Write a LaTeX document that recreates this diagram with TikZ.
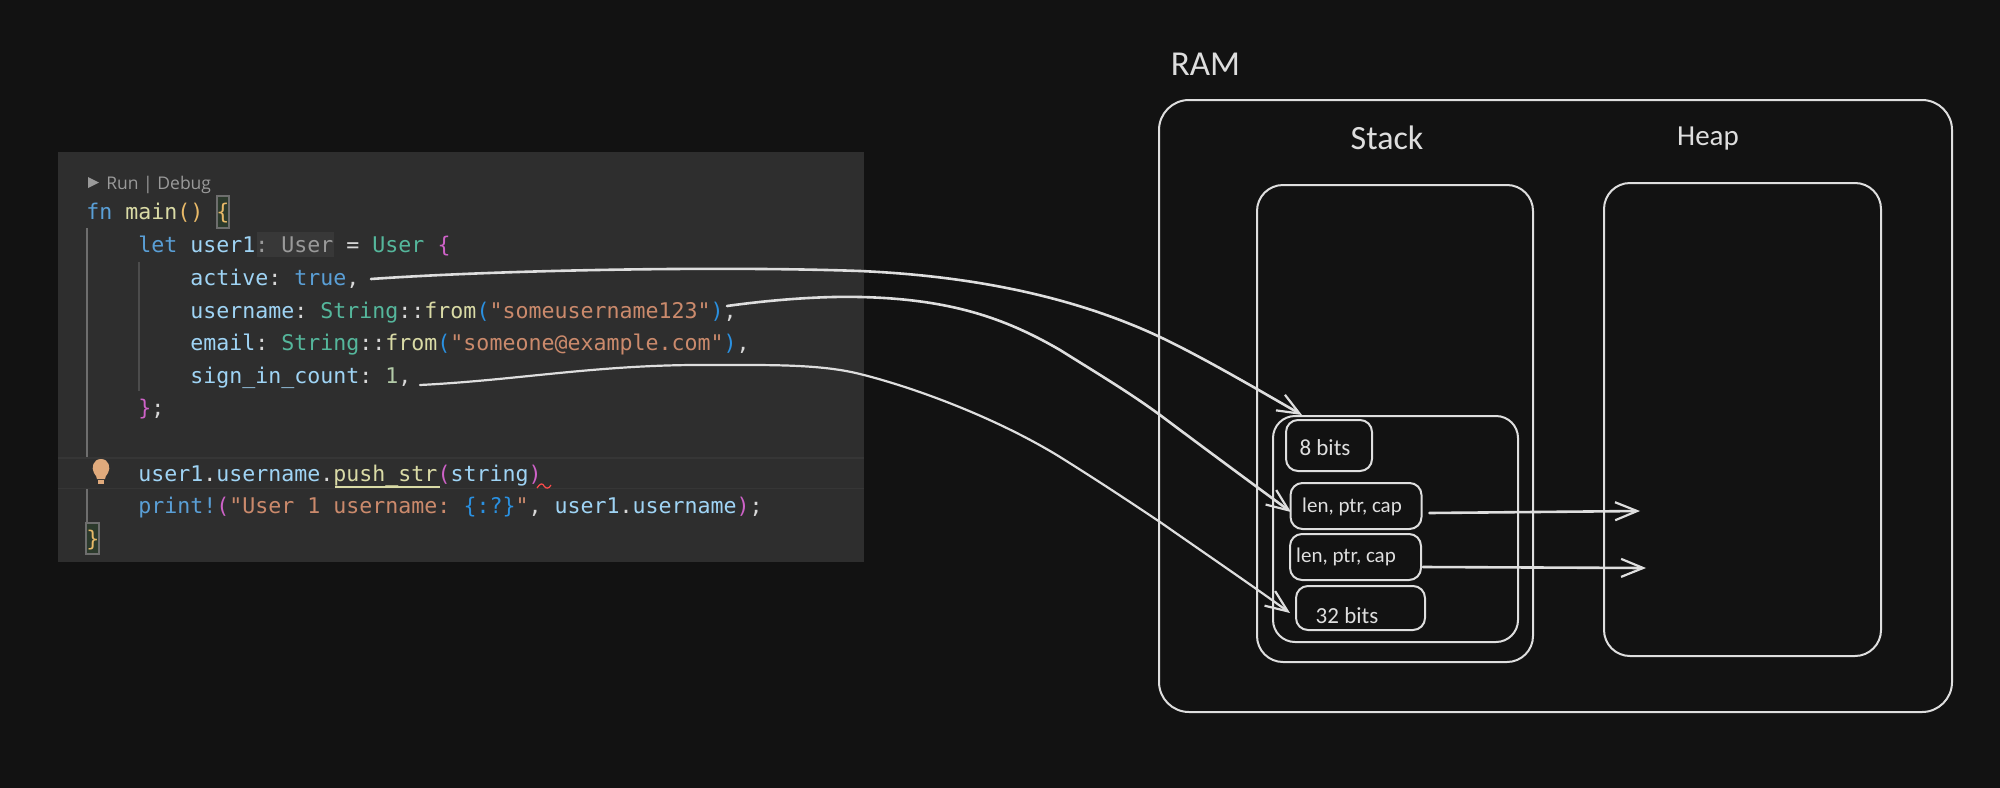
\documentclass[tikz,border=0pt]{standalone}
\usepackage{fontspec}
\usetikzlibrary{arrows.meta,shapes.misc,calc}
\setmainfont{Carlito}
\newfontfamily\codefont{DejaVu Sans Mono}
\newfontfamily\uifont{Open Sans}
\frenchspacing
\definecolor{bgc}{HTML}{121212}
\definecolor{panelc}{HTML}{2E2E2E}
\definecolor{inkc}{HTML}{DEDEDE}
\definecolor{kwc}{HTML}{5A9FD6}
\definecolor{varc}{HTML}{9FD4F5}
\definecolor{typc}{HTML}{55B79C}
\definecolor{fnc}{HTML}{DADBA6}
\definecolor{strc}{HTML}{CB8A6C}
\definecolor{numc}{HTML}{B3CBA8}
\definecolor{goldc}{HTML}{E8B968}
\definecolor{pinkc}{HTML}{CE62C8}
\definecolor{bluec}{HTML}{2A90E0}
\definecolor{txtc}{HTML}{D8D8D8}
\definecolor{uic}{HTML}{9A9A9A}
\definecolor{guideA}{HTML}{6E6E6E}
\definecolor{guideB}{HTML}{4C4C4C}
\definecolor{matchc}{HTML}{2C3A2C}
\definecolor{bulbc}{HTML}{E0AA7C}
\newcommand{\kw}[1]{\textcolor{kwc}{#1}}
\newcommand{\vr}[1]{\textcolor{varc}{#1}}
\newcommand{\ty}[1]{\textcolor{typc}{#1}}
\newcommand{\fnn}[1]{\textcolor{fnc}{#1}}
\newcommand{\st}[1]{\textcolor{strc}{#1}}
\newcommand{\nm}[1]{\textcolor{numc}{#1}}
\newcommand{\gd}[1]{\textcolor{goldc}{#1}}
\newcommand{\pk}[1]{\textcolor{pinkc}{#1}}
\newcommand{\bl}[1]{\textcolor{bluec}{#1}}
\tikzset{
  sketchbox/.style={draw=inkc,line width=1pt,rounded corners=#1,inner sep=0pt,fill=none},
  codeline/.style={anchor=base west,inner sep=0pt,font=\codefont\fontsize{10.8pt}{12pt}\selectfont,text=txtc},
  hand/.style={text=inkc,inner sep=0pt,anchor=center},
  link/.style={draw=inkc,line width=1.3pt,line cap=round,line join=round,-{Straight Barb[length=11pt,width=9pt,line width=1.1pt]}},
  guide/.style={line width=.8pt}
}
\begin{document}
\begin{tikzpicture}[x=.5pt,y=-.5pt]
\useasboundingbox (0,0) rectangle (2000,787);
\fill[bgc] (-10,-10) rectangle (2010,797);
% editor panel
\fill[panelc] (58,152) rectangle (864,562);
\fill[white,opacity=.04] (58,457) rectangle (864,458.5);
\fill[white,opacity=.04] (58,487.5) rectangle (864,489);
\fill[white,opacity=.05] (256.5,232) rectangle (334,257);
\draw[guide,draw=guideA] (87,228) -- (87,457) (87,489) -- (87,522);
\draw[guide,draw=guideB] (139,262) -- (139,391);
\draw[line width=.8pt,draw=guideA,fill=matchc] (217,196) rectangle (229,228);
\draw[line width=.8pt,draw=guideA,fill=matchc] (86,523) rectangle (99,554);
% run | debug
\fill[uic] (88,177) -- (99,182.5) -- (88,188) -- cycle;
\node[anchor=base west,inner sep=0pt,text=uic,font=\uifont\fontsize{8.75pt}{10pt}\selectfont] (rundebug) at (106,189) {Run | Debug};
% code
\node[codeline] (lmain) at (86,219) {\kw{fn} \fnn{main}\gd{()} \gd{\{}};
\node[codeline] (llet) at (138,252) {\kw{let} \vr{user1}\textcolor{uic}{: User} = \ty{User} \pk{\{}};
\node[codeline] (lactive) at (190,285) {\vr{active}: \kw{true},};
\node[codeline] (luser) at (190,318) {\vr{username}: \ty{String}::\fnn{from}\bl{(}\st{"someusername123"}\bl{)},};
\node[codeline] (lemail) at (190,350) {\vr{email}: \ty{String}::\fnn{from}\bl{(}\st{"someone@example.com"}\bl{)},};
\node[codeline] (lsign) at (190,383) {\vr{sign\_in\_count}: \nm{1},};
\node[codeline] (lclose) at (138,415) {\pk{\}};};
\node[codeline] (lpush) at (138,481) {\vr{user1}.\vr{username}.\fnn{push\_str}\pk{(}\vr{string}\pk{)}};
\node[codeline] (lprint) at (138,513) {\kw{print!}\pk{(}\st{"User 1 username: }\bl{\{:?\}}\st{"}, \vr{user1}.\vr{username}\pk{)};};
\node[codeline] (lend) at (86,546) {\gd{\}}};
\draw[fnc,line width=.7pt] (335,487) -- (440,487);
\draw[red!70!white,line width=.6pt] (537,488) .. controls (540,483) and (543,483) .. (544,486) .. controls (546,489) and (549,489) .. (551,485);
% bulb
\fill[bulbc] (101,459) .. controls (93,459) and (91,468) .. (94,473) .. controls (96,476) and (97,477) .. (97,479) -- (105,479) .. controls (105,477) and (106,476) .. (108,473) .. controls (111,468) and (109,459) .. (101,459) -- cycle;
\fill[bulbc] (98,480) rectangle (104,484);
% RAM boxes
\node[sketchbox=15pt,minimum width=793*.5pt,minimum height=612*.5pt] (ram) at (1555.5,406) {};
\node[sketchbox=13pt,minimum width=276*.5pt,minimum height=477*.5pt] (stack) at (1395,423.5) {};
\node[sketchbox=13pt,minimum width=277*.5pt,minimum height=473*.5pt] (heap) at (1742.5,419.5) {};
\node[sketchbox=11pt,minimum width=245*.5pt,minimum height=226*.5pt] (frame) at (1395.5,529) {};
\node[sketchbox=6pt,minimum width=86*.5pt,minimum height=51*.5pt] (bits8) at (1329,445.5) {};
\node[sketchbox=6pt,minimum width=131*.5pt,minimum height=46*.5pt] (lenA) at (1356,506) {};
\node[sketchbox=6pt,minimum width=131*.5pt,minimum height=46*.5pt] (lenB) at (1355.5,557) {};
\node[sketchbox=6pt,minimum width=129*.5pt,minimum height=44*.5pt] (bits32) at (1360.5,608) {};
% hand labels
\node[hand,font=\fontsize{17.5pt}{20pt}\selectfont] (ramlabel) at (1205.5,64) {RAM};
\node[hand,font=\fontsize{17pt}{18pt}\selectfont] (stacklabel) at (1387,138) {Stack};
\node[hand,font=\fontsize{14.5pt}{18pt}\selectfont] (heaplabel) at (1708,139) {Heap};
\node[hand,font=\fontsize{11.5pt}{12pt}\selectfont] (t8) at (1325,448) {8 bits};
\node[hand,font=\fontsize{10.5pt}{12pt}\selectfont] (tA) at (1352,507) {len, ptr, cap};
\node[hand,font=\fontsize{10.5pt}{12pt}\selectfont] (tB) at (1346,557) {len, ptr, cap};
\node[hand,font=\fontsize{11.5pt}{12pt}\selectfont] (t32) at (1347,616) {32 bits};
% connector ends
\coordinate (sA) at (371,279);
\coordinate (sB) at (727,306);
\coordinate (sC) at (420,385);
\draw[link] (sA) .. controls (500,270) and (720,266) .. (860,271) .. controls (950,275) and (1060,290) .. (1160,337) .. controls (1200,356) and (1250,385) .. ([shift={(-27,-4)}]bits8.north);
\draw[link] (sB) .. controls (770,300) and (820,296) .. (860,297) .. controls (950,299) and (1005,318) .. (1060,350) .. controls (1100,375) and (1130,393) .. (1160,415) .. controls (1200,445) and (1250,482) .. ([shift={(1.5,6)}]lenA.west);
\draw[link,line width=1.1pt] (sC) .. controls (520,380) and (600,364) .. (712,365) .. controls (770,365) and (820,364) .. (860,374) .. controls (920,389) and (1000,420) .. (1060,457) .. controls (1100,482) and (1130,502) .. (1160,522) .. controls (1200,550) and (1250,584) .. ([shift={(-5,5)}]bits32.west);
\draw[link] ([shift={(7,7)}]lenA.east) -- (1640,511);
\draw[link] ([shift={(1,10)}]lenB.east) -- (1646,568);
\end{tikzpicture}
\end{document}
